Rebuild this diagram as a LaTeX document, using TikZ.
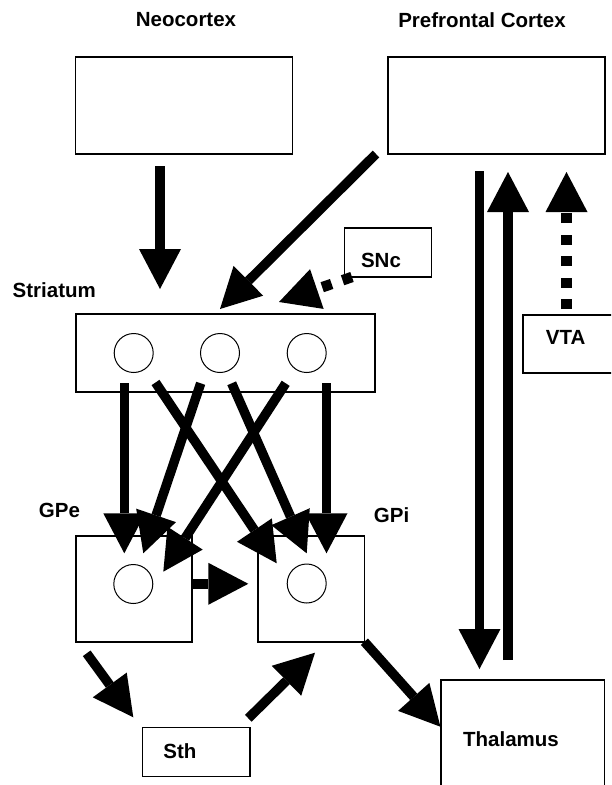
\documentclass[tikz,border=0pt]{standalone}
\usepackage{fontspec}
\setmainfont{Liberation Sans}
\usetikzlibrary{arrows.meta}
\begin{document}
\begin{tikzpicture}[x=1pt,y=-1pt]
\tikzset{
  box/.style={draw, line width=1.2pt, inner sep=0pt},
  cell/.style={draw, circle, line width=1pt, minimum size=39pt, inner sep=0pt},
  lbl/.style={font=\fontsize{20.5}{24}\selectfont\bfseries, inner sep=0pt},
  flow/.style={line width=9.5pt, line cap=butt, -{Triangle[length=40pt,width=42pt,line width=0pt]}},
  dopa/.style={flow, line width=10.5pt, dash pattern=on 10pt off 11.5pt},
}
\clip (0,0) rectangle (611,785);

% regions
\node[box, minimum width=217pt, minimum height=97pt] (neo) at (184.2,105.5) {};
\node[box, minimum width=217pt, minimum height=97pt] (pfc) at (496.5,105.5) {};
\node[box, minimum width=87pt, minimum height=49pt] (snc) at (388.3,252.5) {};
\node[box, minimum width=299pt, minimum height=78pt] (str) at (225.5,353) {};
\node[box, minimum width=117pt, minimum height=58pt] (vta) at (581.5,344) {};
\node[box, minimum width=116pt, minimum height=106pt] (gpe) at (134,589) {};
\node[box, minimum width=106.5pt, minimum height=106pt] (gpi) at (311.2,589) {};
\node[box, minimum width=107.3pt, minimum height=49pt] (sth) at (196.3,752.2) {};
\node[box, minimum width=163.5pt, minimum height=130pt] (thal) at (522.8,745) {};

% neurons
\node[cell] (c1) at (133.7,353) {};
\node[cell] (c2) at (220,353) {};
\node[cell] (c3) at (306.7,353) {};
\node[cell] (ce) at (133.3,584) {};
\node[cell] (ci) at (306.7,583.5) {};

% labels
\node[lbl] (neolbl) at (186,20) {Neocortex};
\node[lbl] (pfclbl) at (482,20) {Prefrontal Cortex};
\node[lbl, anchor=west] (strlbl) at (12.5,290) {Striatum};
\node[lbl] (snclbl) at (381,260) {SNc};
\node[lbl] (vtalbl) at (565.6,337.5) {VTA};
\node[lbl] (gpelbl) at (59.5,510) {GPe};
\node[lbl] (gpilbl) at (391.6,515) {GPi};
\node[lbl] (sthlbl) at (180,751) {Sth};
\node[lbl] (thallbl) at (511,739.5) {Thalamus};

% connector ends
\coordinate (neoOut) at (160,166);   \coordinate (strInA) at (160,289);
\coordinate (pfcOut) at (376,154);   \coordinate (strInB) at (220,309);
\coordinate (sncOut) at (352,277);   \coordinate (strInC) at (279,302);
\coordinate (s1) at (124.3,383);     \coordinate (e1) at (124.3,553.3);
\coordinate (s2) at (155.5,382.5);   \coordinate (i2) at (276.7,563.3);
\coordinate (s3) at (200.7,383.3);   \coordinate (e3) at (143.3,553.3);
\coordinate (s4) at (231.7,383.3);   \coordinate (i4) at (306.7,553.3);
\coordinate (s5) at (285.7,383.3);   \coordinate (e5) at (163.3,571.7);
\coordinate (s6) at (326.5,383);     \coordinate (i6) at (326.5,553.3);
\coordinate (gpeOut) at (191.7,583.8); \coordinate (gpiIn) at (248.3,583.8);
\coordinate (gpeDown) at (86.7,653.3); \coordinate (sthIn) at (133.3,717.3);
\coordinate (sthOut) at (248.3,718.3); \coordinate (gpiLow) at (315,652.7);
\coordinate (gpiOut) at (364.4,641.7); \coordinate (thalIn) at (440.4,726.7);
\coordinate (pfcDown) at (479.5,171);  \coordinate (thalTop) at (479.5,669);
\coordinate (thalUp) at (508,660);     \coordinate (pfcIn) at (508,172);
\coordinate (vtaOut) at (566.5,309);   \coordinate (pfcInB) at (566.5,172);

% projections
\draw[flow] (neoOut) -- (strInA);
\draw[flow] (pfcOut) -- (strInB);
\draw[dopa] (sncOut) -- (strInC);
\draw[flow] (s1) -- (e1);
\draw[flow] (s2) -- (i2);
\draw[flow] (s3) -- (e3);
\draw[flow] (s4) -- (i4);
\draw[flow] (s5) -- (e5);
\draw[flow] (s6) -- (i6);
\draw[flow] (gpeOut) -- (gpiIn);
\draw[flow] (gpeDown) -- (sthIn);
\draw[flow] (sthOut) -- (gpiLow);
\draw[flow] (gpiOut) -- (thalIn);
\draw[flow] (pfcDown) -- (thalTop);
\draw[flow] (thalUp) -- (pfcIn);
\draw[dopa] (vtaOut) -- (pfcInB);
\end{tikzpicture}
\end{document}
